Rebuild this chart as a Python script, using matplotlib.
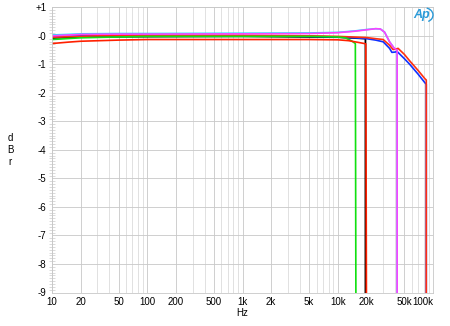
import numpy as np
import matplotlib
matplotlib.use("Agg")
from matplotlib import pyplot as plt
from matplotlib.patches import Arc
from matplotlib.ticker import FixedLocator, MultipleLocator, NullFormatter

# frequency response traces (Hz, dB)
cyan_f = [10, 15, 20, 50, 100, 1000, 5000, 10000, 15000, 20000, 25000, 28000, 31000, 35000, 39000, 42000, 42000]
cyan_db = [0.03, 0.05, 0.07, 0.08, 0.08, 0.09, 0.10, 0.12, 0.17, 0.22, 0.25, 0.24, 0.13, -0.21, -0.43, -0.5, -9]

magenta_f = [10, 15, 20, 50, 100, 1000, 5000, 10000, 15000, 20000, 25000, 28000, 31000, 35000, 39000, 42000, 42000]
magenta_db = [0.0, 0.03, 0.05, 0.06, 0.06, 0.07, 0.08, 0.11, 0.16, 0.21, 0.25, 0.24, 0.13, -0.21, -0.43, -0.5, -9]

blue_f = [10, 20, 100, 1000, 5000, 10000, 15000, 20000, 25000, 30000, 35000, 37000, 40000, 42000, 50000, 57000, 70000, 82000, 85000, 85000]
blue_db = [-0.03, 0.0, 0.0, 0.0, -0.02, -0.04, -0.07, -0.1, -0.15, -0.21, -0.44, -0.58, -0.57, -0.55, -0.8, -1.0, -1.35, -1.64, -1.7, -9]

red_hi_f = [10, 30, 100, 1000, 5000, 10000, 20000, 25000, 30000, 35000, 38000, 40000, 43000, 50000, 57000, 70000, 82000, 85000, 85000]
red_hi_db = [-0.05, 0.0, 0.02, 0.02, 0.0, -0.02, -0.06, -0.1, -0.13, -0.33, -0.48, -0.47, -0.44, -0.65, -0.88, -1.22, -1.5, -1.55, -9]

black_f = [10, 20, 100, 1000, 10000, 15000, 19500, 19500, 19500]
black_db = [-0.08, -0.04, -0.03, -0.02, -0.05, -0.08, -0.1, -0.3, -9]

green_f = [10, 20, 50, 100, 1000, 5000, 10000, 12000, 14000, 15300, 15500]
green_db = [-0.13, -0.07, -0.04, -0.02, -0.02, -0.02, -0.04, -0.07, -0.18, -0.27, -9]

red_lo_f = [10, 15, 20, 50, 100, 1000, 5000, 10000, 13000, 17000, 19700, 20000]
red_lo_db = [-0.27, -0.22, -0.19, -0.15, -0.13, -0.13, -0.13, -0.14, -0.17, -0.24, -0.28, -9]

xticks = [10, 20, 50, 100, 200, 500, 1000, 2000, 5000, 10000, 20000, 50000, 100000]
xlabels = ["10", "20", "50", "100", "200", "500", "1k", "2k", "5k", "10k", "20k", "50k", "100k"]
yticks = list(range(-9, 2))
ylabels = ["-9", "-8", "-7", "-6", "-5", "-4", "-3", "-2", "-1", "-0", "+1"]

plt.rcParams["font.family"] = ["Liberation Sans", "DejaVu Sans"]

W, H = 450, 326
fig = plt.figure(figsize=(4.5, 3.26), dpi=100)
ax = fig.add_axes([52/W, 1-292.5/H, (433-52)/W, (292.5-7.3)/H])

ax.set_xscale("log")
ax.set_xlim(10, 100000)
ax.set_ylim(-9, 1)

# grid
ax.xaxis.set_minor_locator(FixedLocator([m*10**d for d in range(1, 5) for m in range(2, 10)]))
ax.xaxis.set_minor_formatter(NullFormatter())
ax.grid(True, which="major", axis="both", color="#c8c8c8", lw=0.6)
ax.grid(True, which="minor", axis="x", color="#dcdcdc", lw=0.6)
ax.yaxis.set_minor_locator(MultipleLocator(0.1))

ax.set_xticks(xticks)
ax.set_xticklabels(xlabels)
ax.set_yticks(yticks)
ax.set_yticklabels(ylabels)
ax.tick_params(axis="x", which="both", length=0, labelsize=7, pad=3)
ax.tick_params(axis="y", which="major", length=0, labelsize=7, pad=4)
ax.tick_params(axis="y", which="minor", length=4, direction="inout", color="#cccccc", width=0.5)
ax.get_xticklabels()[-1].set_horizontalalignment("right")
for s in ax.spines.values():
    s.set_color("#c8c8c8")
    s.set_linewidth(0.6)

lw = 1.2
ax.plot(cyan_f, cyan_db, color="#22ddff", lw=lw)
ax.plot(black_f, black_db, color="black", lw=lw)
ax.plot(blue_f, blue_db, color="#1030ff", lw=lw)
ax.plot(red_hi_f, red_hi_db, color="#ff3010", lw=lw)
ax.plot(green_f, green_db, color="#10e010", lw=lw)
ax.plot(red_lo_f, red_lo_db, color="#ff2000", lw=lw)
ax.plot(magenta_f, magenta_db, color="#ff40ff", lw=lw)

fig.text(10/W, 1-150/H, "d\nB\nr", fontsize=7, ha="center", va="center", linespacing=1.3)
fig.text(242/W, 1-313/H, "Hz", fontsize=7, ha="center", va="center")

# Ap logo
fig.text(422/W, 1-15/H, "Ap", fontsize=9, color="#2a9ad8", style="italic", weight="bold", ha="center", va="center")
fig.add_artist(Arc((425/W, 1-15/H), 16/W, 14/H, theta1=-70, theta2=80, color="#2a9ad8", lw=1.0, transform=fig.transFigure))

fig.savefig("out.png", dpi=100)
